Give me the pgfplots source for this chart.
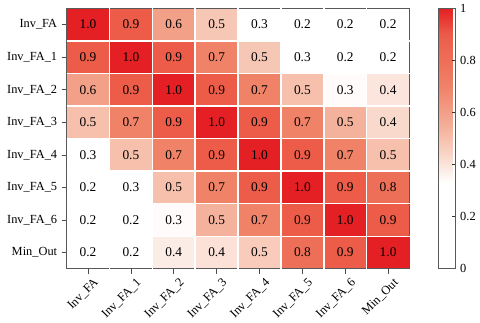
\documentclass[border=0pt]{standalone}
\usepackage{fontspec}
\setmainfont{Liberation Serif}
\usepackage{pgfplots}
\pgfplotsset{compat=1.18}
\usepackage{pgfplotstable}

% y = 0 is the bottom row (Min_Out), y = 7 the top row (Inv_FA)
% c = estimated correlation (drives the colour), lab = printed value
\pgfplotstableread{
x y c lab
0 0 0.20 0.2
1 0 0.20 0.2
2 0 0.38 0.4
3 0 0.41 0.4
4 0 0.47 0.5
5 0 0.80 0.8
6 0 0.90 0.9
7 0 1.00 1.0
0 1 0.20 0.2
1 1 0.20 0.2
2 1 0.34 0.3
3 1 0.54 0.5
4 1 0.70 0.7
5 1 0.90 0.9
6 1 1.00 1.0
7 1 0.90 0.9
0 2 0.20 0.2
1 2 0.30 0.3
2 2 0.50 0.5
3 2 0.70 0.7
4 2 0.90 0.9
5 2 1.00 1.0
6 2 0.90 0.9
7 2 0.80 0.8
0 3 0.30 0.3
1 3 0.50 0.5
2 3 0.70 0.7
3 3 0.90 0.9
4 3 1.00 1.0
5 3 0.90 0.9
6 3 0.70 0.7
7 3 0.50 0.5
0 4 0.50 0.5
1 4 0.70 0.7
2 4 0.90 0.9
3 4 1.00 1.0
4 4 0.90 0.9
5 4 0.70 0.7
6 4 0.54 0.5
7 4 0.43 0.4
0 5 0.60 0.6
1 5 0.90 0.9
2 5 1.00 1.0
3 5 0.90 0.9
4 5 0.70 0.7
5 5 0.50 0.5
6 5 0.34 0.3
7 5 0.40 0.4
0 6 0.90 0.9
1 6 1.00 1.0
2 6 0.90 0.9
3 6 0.70 0.7
4 6 0.48 0.5
5 6 0.30 0.3
6 6 0.20 0.2
7 6 0.20 0.2
0 7 1.00 1.0
1 7 0.90 0.9
2 7 0.60 0.6
3 7 0.48 0.5
4 7 0.30 0.3
5 7 0.20 0.2
6 7 0.20 0.2
7 7 0.20 0.2
}\corr

\begin{document}
\fontsize{13}{15}\selectfont
\begin{tikzpicture}
\path (0,0) rectangle (480bp,324bp);
\begin{axis}[
  at={(67bp,54bp)}, anchor=south west,
  scale only axis, width=345bp, height=262bp,
  xmin=-0.5, xmax=7.5, ymin=-0.5, ymax=7.5,
  xtick={0,...,7}, ytick={0,...,7},
  xticklabels={Inv\_FA,Inv\_FA\_1,Inv\_FA\_2,Inv\_FA\_3,Inv\_FA\_4,Inv\_FA\_5,Inv\_FA\_6,Min\_Out},
  yticklabels={Min\_Out,Inv\_FA\_6,Inv\_FA\_5,Inv\_FA\_4,Inv\_FA\_3,Inv\_FA\_2,Inv\_FA\_1,Inv\_FA},
  xticklabel style={rotate=45, anchor=north east, inner sep=1pt, xshift=2bp, yshift=-5bp, font=\fontsize{12.5}{14}\selectfont},
  yticklabel style={font=\fontsize{12.5}{14}\selectfont},
  tick align=outside, xtick pos=bottom, ytick pos=left,
  major tick length=5bp,
  tick style={black!70, line width=0.7pt},
  axis line style={black!65, line width=0.8pt},
  colormap={heat}{rgb255(0cm)=(255,255,255); rgb255(33cm)=(255,255,255); rgb255(45cm)=(249,210,195); rgb255(55cm)=(244,175,152); rgb255(70cm)=(240,130,104); rgb255(90cm)=(236,92,72); rgb255(100cm)=(228,32,36)},
  point meta min=0, point meta max=1,
  colorbar,
  colorbar style={
    at={(parent axis.north east)}, anchor=north west, xshift=21bp,
    scale only axis, width=17bp, height=262bp,
    ytick={0,0.2,0.4,0.6,0.8,1},
    yticklabels={0,0.2,0.4,0.6,0.8,1},
    yticklabel style={font=\fontsize{12.5}{14}\selectfont},
    ytick pos=right, tick align=inside, major tick length=4bp,
    tick style={black!80, line width=0.7pt},
    axis line style={black!65, line width=0.8pt},
  },
  extra x ticks={0.5,1.5,2.5,3.5,4.5,5.5,6.5},
  extra y ticks={0.5,1.5,2.5,3.5,4.5,5.5,6.5},
  extra x tick labels={}, extra y tick labels={},
  extra tick style={grid=major, major grid style={white, line width=1.5pt}, major tick length=0pt},
  axis on top,
  /pgf/number format/assume math mode=true,
]
\addplot[matrix plot*, mesh/cols=8, point meta=explicit] table[x=x, y=y, meta=c] {\corr};
\addplot[draw=none, point meta=explicit,
  nodes near coords={\pgfmathprintnumber[fixed, zerofill, precision=1, assume math mode=true]{\pgfplotspointmeta}},
  nodes near coords align={center},
  every node near coord/.append style={text=black, font=\fontsize{13.5}{15}\selectfont}]
  table[x=x, y=y, meta=lab] {\corr};
\end{axis}
\end{tikzpicture}
\end{document}
